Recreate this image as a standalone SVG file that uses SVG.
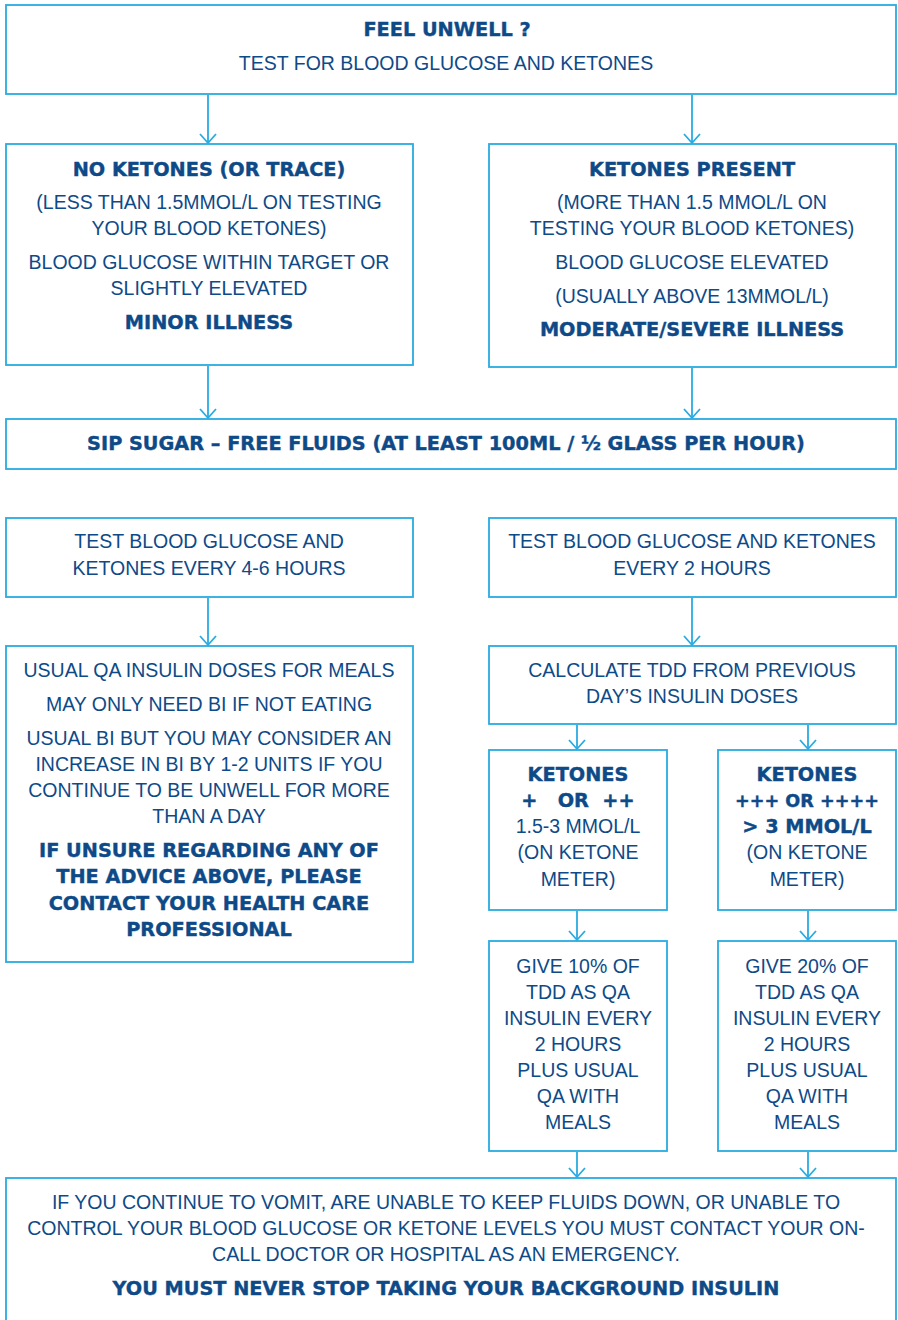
<svg xmlns="http://www.w3.org/2000/svg" width="898" height="1320" viewBox="0 0 898 1320">
<defs>
<marker id="arr" markerUnits="userSpaceOnUse" markerWidth="20" markerHeight="14" refX="10" refY="12" orient="0" viewBox="0 0 20 14">
<polyline points="2,3 10,12 18,3" fill="none" stroke="#29abe2" stroke-width="1.8"/>
</marker>
<style>
rect{fill:#fff;stroke:#29abe2;stroke-width:1.8}
text{font-family:"Liberation Sans",Arial,sans-serif;font-size:19.5px;fill:#0e4a87;text-anchor:middle}
.b{font-family:"DejaVu Sans","Liberation Sans",sans-serif;font-weight:bold;font-size:19.3px;stroke:#0e4a87;stroke-width:0.4px}
.c line{stroke:#29abe2;stroke-width:1.8}
</style>
</defs>
<rect x="0" y="0" width="898" height="1320" style="fill:#fff;stroke:none"/>
<g class="c" id="connectors">
<line x1="208" y1="95" x2="208" y2="143" marker-end="url(#arr)"/>
<line x1="692" y1="95" x2="692" y2="143" marker-end="url(#arr)"/>
<line x1="208" y1="366" x2="208" y2="418" marker-end="url(#arr)"/>
<line x1="692" y1="368" x2="692" y2="418" marker-end="url(#arr)"/>
<line x1="208" y1="598" x2="208" y2="645" marker-end="url(#arr)"/>
<line x1="692" y1="598" x2="692" y2="645" marker-end="url(#arr)"/>
<line x1="577" y1="725" x2="577" y2="749" marker-end="url(#arr)"/>
<line x1="808" y1="725" x2="808" y2="749" marker-end="url(#arr)"/>
<line x1="577" y1="911" x2="577" y2="940" marker-end="url(#arr)"/>
<line x1="808" y1="911" x2="808" y2="940" marker-end="url(#arr)"/>
<line x1="577" y1="1152" x2="577" y2="1177" marker-end="url(#arr)"/>
<line x1="808" y1="1152" x2="808" y2="1177" marker-end="url(#arr)"/>
</g>
<g id="n-feel">
<rect x="6" y="5" width="890" height="89"/>
<text x="447" y="36" class="b">FEEL UNWELL ?</text>
<text x="446" y="70">TEST FOR BLOOD GLUCOSE AND KETONES</text>
</g>
<g id="n-noketones">
<rect x="6" y="144" width="407" height="221"/>
<text x="209" y="176" class="b">NO KETONES (OR TRACE)</text>
<text x="209" y="209">(LESS THAN 1.5MMOL/L ON TESTING</text>
<text x="209" y="235">YOUR BLOOD KETONES)</text>
<text x="209" y="269">BLOOD GLUCOSE WITHIN TARGET OR</text>
<text x="209" y="295">SLIGHTLY ELEVATED</text>
<text x="209" y="329" class="b">MINOR ILLNESS</text>
</g>
<g id="n-ketones">
<rect x="489" y="144" width="407" height="223"/>
<text x="692" y="176" class="b">KETONES PRESENT</text>
<text x="692" y="209">(MORE THAN 1.5 MMOL/L ON</text>
<text x="692" y="235">TESTING YOUR BLOOD KETONES)</text>
<text x="692" y="269">BLOOD GLUCOSE ELEVATED</text>
<text x="692" y="303">(USUALLY ABOVE 13MMOL/L)</text>
<text x="692" y="336" class="b">MODERATE/SEVERE ILLNESS</text>
</g>
<g id="n-sip">
<rect x="6" y="419" width="890" height="50"/>
<text x="446" y="450" class="b">SIP SUGAR – FREE FLUIDS (AT LEAST 100ML / ½ GLASS PER HOUR)</text>
</g>
<g id="n-test46">
<rect x="6" y="518" width="407" height="79"/>
<text x="209" y="548">TEST BLOOD GLUCOSE AND</text>
<text x="209" y="575">KETONES EVERY 4-6 HOURS</text>
</g>
<g id="n-test2">
<rect x="489" y="518" width="407" height="79"/>
<text x="692" y="548">TEST BLOOD GLUCOSE AND KETONES</text>
<text x="692" y="575">EVERY 2 HOURS</text>
</g>
<g id="n-usual">
<rect x="6" y="646" width="407" height="316"/>
<text x="209" y="677">USUAL QA INSULIN DOSES FOR MEALS</text>
<text x="209" y="711">MAY ONLY NEED BI IF NOT EATING</text>
<text x="209" y="745">USUAL BI BUT YOU MAY CONSIDER AN</text>
<text x="209" y="771">INCREASE IN BI BY 1-2 UNITS IF YOU</text>
<text x="209" y="797">CONTINUE TO BE UNWELL FOR MORE</text>
<text x="209" y="823">THAN A DAY</text>
<text x="209" y="857" class="b">IF UNSURE REGARDING ANY OF</text>
<text x="209" y="883" class="b">THE ADVICE ABOVE, PLEASE</text>
<text x="209" y="910" class="b">CONTACT YOUR HEALTH CARE</text>
<text x="209" y="936" class="b">PROFESSIONAL</text>
</g>
<g id="n-calc">
<rect x="489" y="646" width="407" height="78"/>
<text x="692" y="677">CALCULATE TDD FROM PREVIOUS</text>
<text x="692" y="703">DAY’S INSULIN DOSES</text>
</g>
<g id="n-k1">
<rect x="489" y="750" width="178" height="160"/>
<text x="578" y="781" class="b">KETONES</text>
<text x="578" y="807" class="b" xml:space="preserve">+   OR  ++</text>
<text x="578" y="833">1.5-3 MMOL/L</text>
<text x="578" y="859">(ON KETONE</text>
<text x="578" y="886">METER)</text>
</g>
<g id="n-k2">
<rect x="718" y="750" width="178" height="160"/>
<text x="807" y="781" class="b">KETONES</text>
<text x="807" y="807" class="b" style="font-size:17.6px">+++ OR ++++</text>
<text x="807" y="833" class="b">&gt; 3 MMOL/L</text>
<text x="807" y="859">(ON KETONE</text>
<text x="807" y="886">METER)</text>
</g>
<g id="n-g1">
<rect x="489" y="941" width="178" height="210"/>
<text x="578" y="973">GIVE 10% OF</text>
<text x="578" y="999">TDD AS QA</text>
<text x="578" y="1025">INSULIN EVERY</text>
<text x="578" y="1051">2 HOURS</text>
<text x="578" y="1077">PLUS USUAL</text>
<text x="578" y="1103">QA WITH</text>
<text x="578" y="1129">MEALS</text>
</g>
<g id="n-g2">
<rect x="718" y="941" width="178" height="210"/>
<text x="807" y="973">GIVE 20% OF</text>
<text x="807" y="999">TDD AS QA</text>
<text x="807" y="1025">INSULIN EVERY</text>
<text x="807" y="1051">2 HOURS</text>
<text x="807" y="1077">PLUS USUAL</text>
<text x="807" y="1103">QA WITH</text>
<text x="807" y="1129">MEALS</text>
</g>
<g id="n-emergency">
<rect x="6" y="1178" width="890" height="160"/>
<text x="446" y="1209">IF YOU CONTINUE TO VOMIT, ARE UNABLE TO KEEP FLUIDS DOWN, OR UNABLE TO</text>
<text x="446" y="1235">CONTROL YOUR BLOOD GLUCOSE OR KETONE LEVELS YOU MUST CONTACT YOUR ON-</text>
<text x="446" y="1261">CALL DOCTOR OR HOSPITAL AS AN EMERGENCY.</text>
<text x="446" y="1295" class="b">YOU MUST NEVER STOP TAKING YOUR BACKGROUND INSULIN</text>
</g>
</svg>
